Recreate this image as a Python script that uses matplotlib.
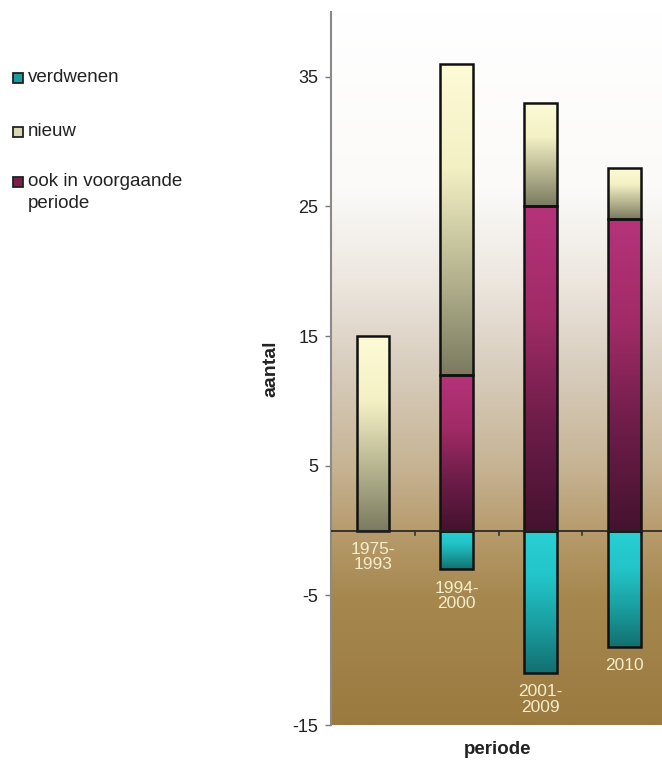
import numpy as np
import matplotlib.pyplot as plt
from matplotlib.colors import LinearSegmentedColormap
from matplotlib.patches import Rectangle

plt.rcParams['font.family'] = ['Liberation Sans', 'DejaVu Sans']
plt.rcParams['axes.unicode_minus'] = False

# data per period
periods = ['1975-\n1993', '1994-\n2000', '2001-\n2009', '2010']
ook = [0, 12, 25, 24]          # ook in voorgaande periode
nieuw = [15, 24, 8, 4]         # nieuw
verdwenen = [0, -3, -11, -9]   # verdwenen

series_names = ['verdwenen', 'nieuw', 'ook in voorgaande\nperiode']

# gradient colours (bottom -> top of each segment)
grad_nieuw = ['#7b7b60', '#b9b792', '#f3f0c4', '#fdfbd6']
grad_ook = ['#45122f', '#6e1d49', '#a12b66', '#b5337a']
grad_verd = ['#137070', '#1a9ea0', '#22c4c8', '#28d0d4']
legend_cols = ['#1c9a9c', '#d9d7b4', '#7a1f4c']

fig = plt.figure(figsize=(6.62, 7.62), dpi=100)
ax = fig.add_axes([331 / 662, 1 - 725 / 762, 331 / 662, 713 / 762])
ax.set_xlim(-0.5, 3.45)
ax.set_ylim(-15, 40)

# background of plot area
bg = LinearSegmentedColormap.from_list('bg', [
    (0.0, '#9b7a3f'), (0.18, '#a6884f'), (0.27, '#b79b6c'), (0.36, '#c6b393'),
    (0.5, '#d8cdbd'), (0.62, '#ece6de'), (0.75, '#fbfaf8'), (1.0, '#ffffff')])
ax.imshow(np.linspace(0, 1, 256).reshape(-1, 1), cmap=bg, origin='lower',
          extent=[-0.5, 3.45, -15, 40], aspect='auto', zorder=0)


def grad_bar(x, bottom, height, colors, width=0.39):
    if height == 0:
        return
    cm = LinearSegmentedColormap.from_list('g', colors)
    lo, hi = sorted([bottom, bottom + height])
    ax.imshow(np.linspace(0, 1, 128).reshape(-1, 1), cmap=cm, origin='lower',
              extent=[x - width / 2, x + width / 2, lo, hi], aspect='auto', zorder=2)
    ax.add_patch(Rectangle((x - width / 2, lo), width, hi - lo, fill=False,
                           edgecolor='#111111', linewidth=1.8, zorder=3))


x = np.arange(len(periods))
for i in x:
    grad_bar(i, 0, ook[i], grad_ook)
    grad_bar(i, ook[i], nieuw[i], grad_nieuw)
    grad_bar(i, 0, verdwenen[i], grad_verd)
    ax.annotate(periods[i], (i, min(verdwenen[i], 0)), xytext=(0, -8),
                textcoords='offset points', ha='center', va='top',
                fontsize=12.5, color='#f4edcc', linespacing=1.05, zorder=4)

# zero line with small marks between the periods
ax.axhline(0, color='#222222', linewidth=1.2, zorder=4)
for b in [0.5, 1.5, 2.5]:
    ax.plot([b, b], [0, -0.35], color='#333333', linewidth=1.2, zorder=4)

ax.set_xticks([])
ax.set_yticks([35, 25, 15, 5, -5, -15])
ax.tick_params(axis='y', direction='out', length=4, width=1, color='#777777',
               labelsize=13, pad=5, labelcolor='#222222')
for s in ['top', 'right', 'bottom']:
    ax.spines[s].set_visible(False)
ax.spines['left'].set_color('#8a8a8a')
ax.spines['left'].set_linewidth(1.5)

fig.text(271 / 662, 1 - 369 / 762, 'aantal', rotation=90, ha='center', va='center',
         fontsize=14, fontweight='bold', color='#222222')
fig.text(498 / 662, 1 - 749 / 762, 'periode', ha='center', va='center',
         fontsize=13.5, fontweight='bold', color='#222222')

# legend on the left
leg_y = [78, 132, 182]
for name, col, yy in zip(series_names, legend_cols, leg_y):
    fig.patches.append(Rectangle((13 / 662, 1 - (yy + 5) / 762), 10 / 662, 10 / 762,
                                 transform=fig.transFigure, facecolor=col,
                                 edgecolor='#222222', linewidth=1.3))
    first, *rest = name.split('\n')
    fig.text(28 / 662, 1 - yy / 762, first, ha='left', va='center',
             fontsize=13.5, color='#222222')
    for k, line in enumerate(rest, start=1):
        fig.text(28 / 662, 1 - (yy + 21 * k) / 762, line, ha='left', va='center',
                 fontsize=13.5, color='#222222')

fig.savefig('out.png', dpi=100)
